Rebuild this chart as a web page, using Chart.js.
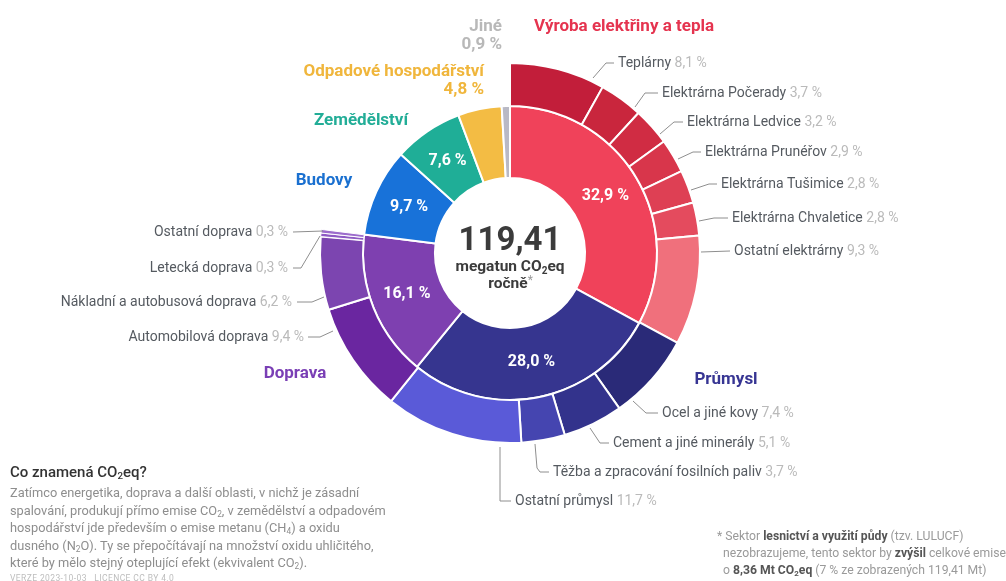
<!DOCTYPE html>
<html><head><meta charset="utf-8">
<script src="https://cdn.jsdelivr.net/npm/chart.js@4.4.0/dist/chart.umd.min.js"></script>
<style>
html,body{margin:0;padding:0;background:#fff;overflow:hidden}
#wrap{position:relative;width:1006px;height:581px;font-family:Roboto,'Noto Sans',sans-serif}
canvas{position:absolute;left:0;top:0}
#q{position:absolute;left:10px;top:462px;width:430px}
#q h3{margin:0;font-size:15px;font-weight:500;color:#333;line-height:20px}
#q p{margin:2px 0 0 0;font-size:12.8px;line-height:17.6px;color:#8e8e8e;font-weight:400}
#ver{position:absolute;left:10px;top:573px;font-size:8.5px;color:#bdbdbd;letter-spacing:.4px}
#fn{position:absolute;left:717px;top:528px;width:300px;font-size:12.2px;line-height:17px;color:#9a9a9a;white-space:nowrap}
#fn b{color:#555;font-weight:700}
sub{font-size:65%;vertical-align:-2px;line-height:0}
</style></head>
<body><div id="wrap"><canvas id="c" width="1006" height="581"></canvas>
<div id="q"><h3>Co znamená CO<sub>2</sub>eq?</h3>
<p>Zatímco energetika, doprava a další oblasti, v nichž je zásadní<br>spalování, produkují přímo emise CO<sub>2</sub>, v zemědělství a odpadovém<br>hospodářství jde především o emise metanu (CH<sub>4</sub>) a oxidu<br>dusného (N<sub>2</sub>O). Ty se přepočítávají na množství oxidu uhličitého,<br>které by mělo stejný oteplující efekt (ekvivalent CO<sub>2</sub>).</p></div>
<div id="ver">VERZE 2023-10-03 &nbsp; LICENCE CC BY 4.0</div>
<div id="fn">* Sektor <b>lesnictví a využití půdy</b> (tzv. LULUCF)<br>&nbsp; nezobrazujeme, tento sektor by <b>zvýšil</b> celkové emise<br>&nbsp; o <b>8,36 Mt CO<sub>2</sub>eq</b> (7 % ze zobrazených 119,41 Mt)</div>
</div>
<script>
// ---- data ----
const sectorLabels = ['Výroba elektřiny a tepla','Průmysl','Doprava','Budovy','Zemědělství','Odpadové hospodářství','Jiné'];
const sectorValues = [32.9, 28.0, 16.1, 9.7, 7.6, 4.8, 0.9];
const electricityLabels = ['Teplárny','Elektrárna Počerady','Elektrárna Ledvice','Elektrárna Prunéřov','Elektrárna Tušimice','Elektrárna Chvaletice','Ostatní elektrárny'];
const electricityValues = [8.1, 3.7, 3.2, 2.9, 2.8, 2.8, 9.3];
const industryLabels = ['Ocel a jiné kovy','Cement a jiné minerály','Těžba a zpracování fosilních paliv','Ostatní průmysl'];
const industryValues = [7.4, 5.1, 3.7, 11.7];
const transportLabels = ['Automobilová doprava','Nákladní a autobusová doprava','Letecká doprava','Ostatní doprava'];
const transportValues = [9.4, 6.2, 0.3, 0.3];
const totalLabel = '119,41';

// ---- styles ----
const sectorColors = ['#f0425a','#36358f','#7e40b0','#1872d9','#1fae97','#f3bc44','#b9b9c5'];
const titleColors  = ['#e5344f','#373593','#7a3fb5','#1a70d0','#22ad97','#f0b63c','#b8b8b8'];
const electricityColors = ['#c21e3a','#c9263d','#d02c43','#d8364b','#de4054','#e44b5e','#f0707c'];
const industryColors = ['#2a2a78','#33338c','#4545b0','#5a5ad8'];
const transportColors = ['#6a26a0','#7c45b0','#8e5ac4','#9c6ccc'];

const outerValues = electricityValues.concat(industryValues, transportValues, sectorValues.slice(3));
const fillerCount = sectorValues.length - 3;
const outerColors = electricityColors.concat(industryColors, transportColors, Array(fillerCount).fill('rgba(0,0,0,0)'));
const outerBorders = Array(electricityValues.length + industryValues.length).fill(2)
  .concat([2, 2, 1, 1], Array(fillerCount).fill(0));

function fmt(v){ return v.toFixed(1).replace('.', ',') + ' %'; }

// layout of annotation labels (text anchor + leader line polyline)
const electricityLayout = [
  {tx:618, ty:63,  pts:[[593,78],[606,63],[614,63]]},
  {tx:662, ty:93,  pts:[[635,107],[645,93],[658,93]]},
  {tx:687, ty:122, pts:[[660,134],[674,122],[683,122]]},
  {tx:705, ty:152, pts:[[678,159],[693,152],[701,152]]},
  {tx:721, ty:184, pts:[[691,190],[709,184],[717,184]]},
  {tx:732, ty:218, pts:[[699,221],[714,218],[728,218]]},
  {tx:734, ty:251, pts:[[701,252],[730,251]]}
];
const industryLayout = [
  {tx:662, ty:413, pts:[[633,401],[646,413],[658,413]]},
  {tx:613, ty:443, pts:[[590,428],[600,443],[609,443]]},
  {tx:553, ty:472, pts:[[535,444],[537,468],[540,472],[549,472]]},
  {tx:515, ty:501, pts:[[500,447],[500,501],[511,501]]}
];
const transportLayout = [
  {tx:304, ty:337, pts:[[308,337],[320,337],[333,331]]},
  {tx:292, ty:302, pts:[[297,302],[312,302],[324,297]]},
  {tx:288, ty:268, pts:[[293,268],[301,268],[320,236]]},
  {tx:288, ty:232, pts:[[293,232],[323,231]]}
];
const titleLayout = [
  {x:624, y:27, align:'center'},
  {x:726, y:380, align:'center'},
  {x:295, y:374, align:'center'},
  {x:324, y:181, align:'center'},
  {x:361, y:121, align:'center'},
  {x:484, y:72, align:'right', showValue:true},
  {x:502, y:27, align:'right', showValue:true}
];

const FONT = 'Roboto, "Noto Sans", sans-serif';

function drawLeader(ctx, pts){
  ctx.beginPath();
  ctx.moveTo(pts[0][0], pts[0][1]);
  for (let i = 1; i < pts.length; i++) ctx.lineTo(pts[i][0], pts[i][1]);
  ctx.stroke();
}
function drawSub(ctx, name, value, lay, align){
  ctx.font = '14px ' + FONT;
  const pct = ' ' + fmt(value);
  const wn = ctx.measureText(name).width, wp = ctx.measureText(pct).width;
  const x0 = align === 'right' ? lay.tx - wn - wp : lay.tx;
  ctx.textAlign = 'left';
  ctx.fillStyle = '#555a60';
  ctx.fillText(name, x0, lay.ty);
  ctx.fillStyle = '#bababa';
  ctx.fillText(pct, x0 + wn, lay.ty);
  drawLeader(ctx, lay.pts);
}

const labelPlugin = {
  id: 'labels',
  afterDatasetsDraw(chart){
    const ctx = chart.ctx;
    ctx.save();
    ctx.textBaseline = 'middle';
    // inner ring value labels
    const inner = chart.getDatasetMeta(1);
    ctx.fillStyle = '#ffffff';
    ctx.font = 'bold 16px ' + FONT;
    ctx.textAlign = 'center';
    inner.data.forEach((arc, i) => {
      if (sectorValues[i] < 5) return;
      const p = arc.tooltipPosition();
      ctx.fillText(fmt(sectorValues[i]), p.x, p.y);
    });
    // center
    const cx = inner.data[0].x, cy = inner.data[0].y;
    ctx.fillStyle = '#3b3b3b';
    ctx.font = 'bold 33px ' + FONT;
    ctx.fillText(totalLabel, cx, cy - 11);
    const a = 'megatun CO', b = 'eq';
    ctx.font = 'bold 15.5px ' + FONT;
    const wa = ctx.measureText(a).width, wb = ctx.measureText(b).width;
    ctx.font = 'bold 10px ' + FONT;
    const ws = ctx.measureText('2').width;
    let sx = cx - (wa + ws + wb) / 2;
    ctx.textAlign = 'left';
    ctx.font = 'bold 15.5px ' + FONT;
    ctx.fillText(a, sx, cy + 14);
    ctx.font = 'bold 10px ' + FONT;
    ctx.fillText('2', sx + wa, cy + 18);
    ctx.font = 'bold 15.5px ' + FONT;
    ctx.fillText(b, sx + wa + ws, cy + 14);
    const wr = ctx.measureText('ročně').width;
    ctx.fillText('ročně', cx - wr / 2 - 2, cy + 31);
    ctx.fillStyle = '#9a9a9a';
    ctx.font = '12px ' + FONT;
    ctx.fillText('*', cx + wr / 2 - 2, cy + 28);
    // titles
    ctx.font = 'bold 17px ' + FONT;
    sectorLabels.forEach((t, i) => {
      const L = titleLayout[i];
      ctx.fillStyle = titleColors[i];
      ctx.textAlign = L.align;
      ctx.fillText(t, L.x, L.y);
      if (L.showValue) ctx.fillText(fmt(sectorValues[i]), L.x, L.y + 18);
    });
    // sub-category labels
    ctx.strokeStyle = '#8e8e8e';
    ctx.lineWidth = 1;
    electricityLabels.forEach((n, i) => drawSub(ctx, n, electricityValues[i], electricityLayout[i], 'left'));
    industryLabels.forEach((n, i) => drawSub(ctx, n, industryValues[i], industryLayout[i], 'left'));
    transportLabels.forEach((n, i) => drawSub(ctx, n, transportValues[i], transportLayout[i], 'right'));
    ctx.restore();
  }
};

new Chart(document.getElementById('c'), {
  type: 'doughnut',
  data: {
    labels: outerValues.map((_, i) => String(i)),
    datasets: [
      { data: outerValues, backgroundColor: outerColors, borderColor: '#ffffff', borderWidth: outerBorders, weight: 43 },
      { data: sectorValues, backgroundColor: sectorColors, borderColor: '#ffffff', borderWidth: 2, weight: 72 }
    ]
  },
  options: {
    responsive: false,
    animation: false,
    radius: 190,
    cutout: '39.5%',
    layout: { padding: { left: 14, right: 0, top: 0, bottom: 75 } },
    plugins: { legend: { display: false }, tooltip: { enabled: false } },
    events: []
  },
  plugins: [labelPlugin]
});
</script>
</body></html>
